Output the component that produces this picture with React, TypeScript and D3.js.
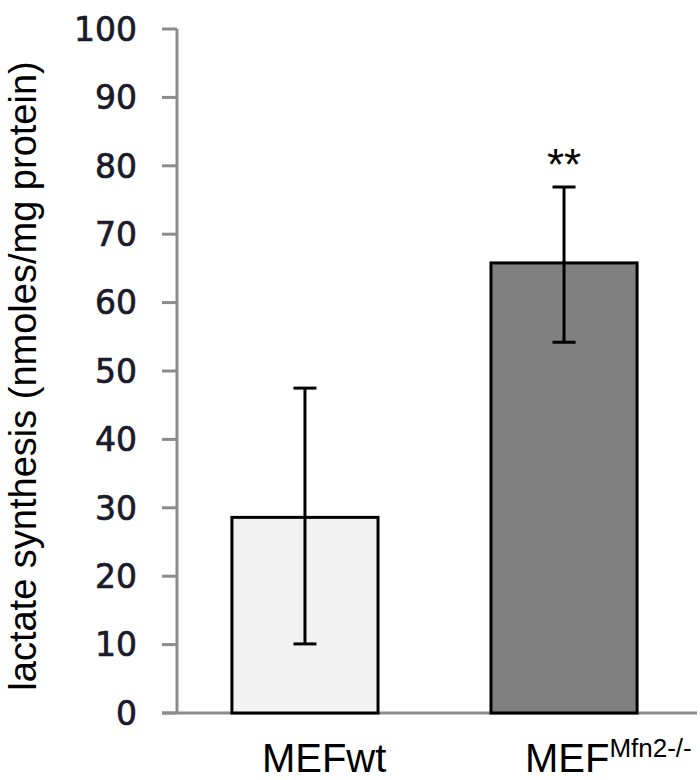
import React from "react";
import * as d3 from "d3";

const categories = ["MEFwt", "MEFMfn2"];
const values = [28.6, 65.8];
const errLow = [10.1, 54.2];
const errHigh = [47.5, 76.9];
const fills = ["#f2f2f2", "#808080"];
const yTicks = [0, 10, 20, 30, 40, 50, 60, 70, 80, 90, 100];
const yLabel = "lactate synthesis (nmoles/mg protein)";

export default function App() {
  const W = 700, H = 780;
  const y = d3.scaleLinear().domain([0, 100]).range([713, 29]);
  const x = d3.scaleBand().domain(categories).range([177, 692]).paddingInner(0.436).paddingOuter(0.212);
  const axisColor = "#8c8c8c";
  const bw = x.bandwidth();
  return (
    <svg width={W} height={H} style={{ position: "absolute", left: 0, top: 0, background: "#fff" }}>
      <rect x={0} y={0} width={W} height={H} fill="#fff" />
      {/* y label */}
      <text
        transform={`translate(36,${376}) rotate(-90)`}
        textAnchor="middle"
        fontFamily="Liberation Sans, Arial, sans-serif"
        fontSize={38}
        fill="#000"
      >
        {yLabel}
      </text>
      {/* y axis */}
      <line x1={177} x2={177} y1={y(100)} y2={y(0)} stroke={axisColor} strokeWidth={3} />
      <line x1={162} x2={697} y1={y(0)} y2={y(0)} stroke={axisColor} strokeWidth={3} />
      {yTicks.map((t) => (
        <g key={t}>
          <line x1={162} x2={177} y1={y(t)} y2={y(t)} stroke={axisColor} strokeWidth={3} />
          <text
            x={137}
            y={y(t)}
            dy="0.36em"
            textAnchor="end"
            fontFamily="DejaVu Sans, Verdana, sans-serif"
            fontSize={33}
            fill="#1a1a2a"
            stroke="#1a1a2a"
            strokeWidth={0.7}
          >
            {t}
          </text>
        </g>
      ))}
      {/* bars */}
      {categories.map((c, i) => {
        const x0 = x(c)!;
        const cx = x0 + bw / 2;
        return (
          <g key={c}>
            <rect x={x0} y={y(values[i])} width={bw} height={y(0) - y(values[i])} fill={fills[i]} stroke="#000" strokeWidth={3} />
            <line x1={cx} x2={cx} y1={y(errHigh[i])} y2={y(errLow[i])} stroke="#000" strokeWidth={3} />
            <line x1={cx - 11.5} x2={cx + 11.5} y1={y(errHigh[i])} y2={y(errHigh[i])} stroke="#000" strokeWidth={3} />
            <line x1={cx - 11.5} x2={cx + 11.5} y1={y(errLow[i])} y2={y(errLow[i])} stroke="#000" strokeWidth={3} />
          </g>
        );
      })}
      {/* significance */}
      <text
        x={x(categories[1])! + bw / 2}
        y={180}
        textAnchor="middle"
        fontFamily="Liberation Sans, Arial, sans-serif"
        fontSize={44}
        fill="#000"
      >
        **
      </text>
      {/* category labels */}
      <text x={x(categories[0])! + 30} y={772} fontFamily="Liberation Sans, Arial, sans-serif" fontSize={40} fill="#000">
        MEFwt
      </text>
      <text x={x(categories[1])! + 34} y={772} fontFamily="Liberation Sans, Arial, sans-serif" fontSize={40} fill="#000">
        MEF
        <tspan fontSize={26} dy={-15}>Mfn2-/-</tspan>
      </text>
    </svg>
  );
}
